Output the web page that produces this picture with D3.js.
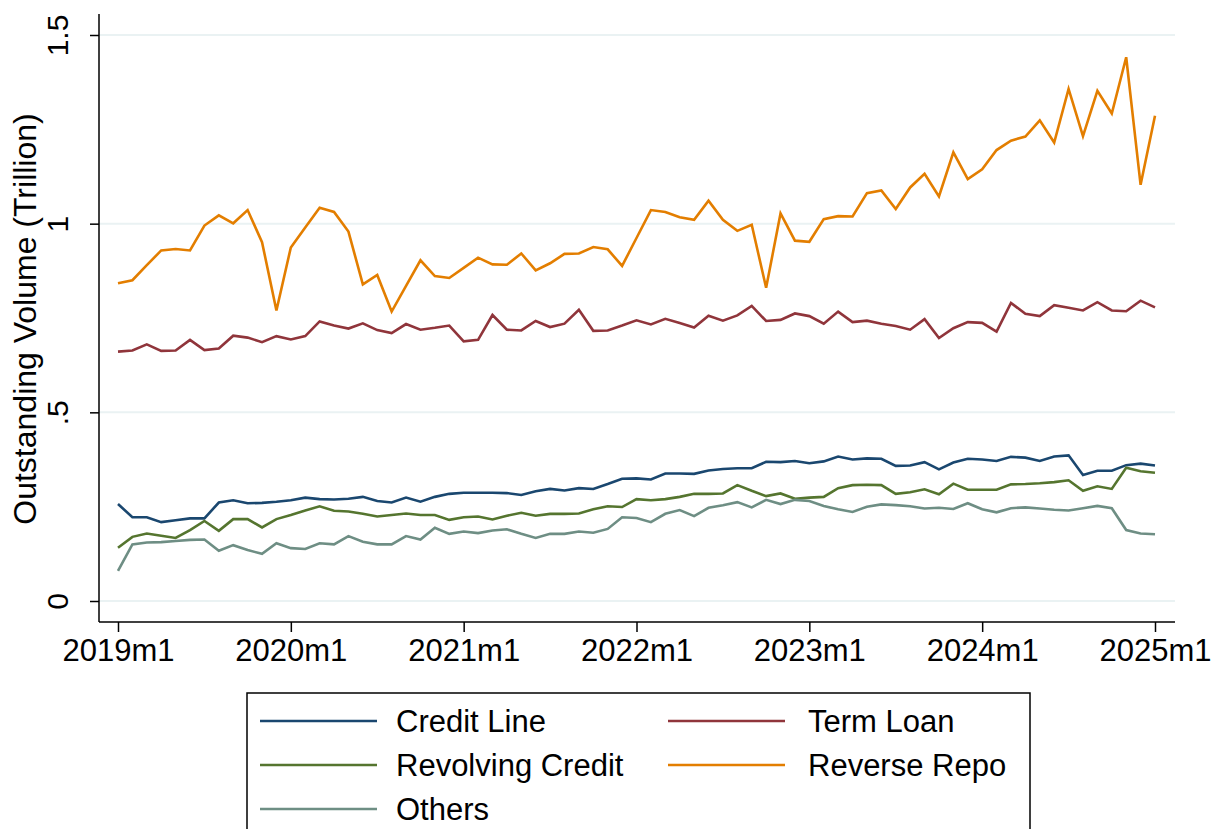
<!DOCTYPE html>
<html>
<head>
<meta charset="utf-8">
<script src="https://cdn.jsdelivr.net/npm/d3@7"></script>
<style>
  body { margin: 0; background: #fff; }
  svg { display: block; font-family: "Liberation Sans", Arial, sans-serif; }
</style>
</head>
<body>
<div id="chart"></div>
<script>
// months 2019m1 .. 2025m1 (73 points)
var nMonths = 73;
var tickLabels = ["2019m1", "2020m1", "2021m1", "2022m1", "2023m1", "2024m1", "2025m1"];
var yTicks = [0, 0.5, 1, 1.5];
var yTickLabels = ["0", ".5", "1", "1.5"];

var creditLine = [0.257, 0.222, 0.222, 0.209, 0.214, 0.219, 0.219, 0.261, 0.267, 0.259, 0.260, 0.263,
  0.267, 0.274, 0.270, 0.269, 0.271, 0.276, 0.265, 0.261, 0.274, 0.263, 0.276, 0.284,
  0.287, 0.287, 0.287, 0.286, 0.281, 0.291, 0.297, 0.293, 0.299, 0.297, 0.310, 0.324,
  0.325, 0.322, 0.338, 0.338, 0.337, 0.346, 0.350, 0.352, 0.352, 0.369, 0.368, 0.371,
  0.365, 0.370, 0.383, 0.375, 0.378, 0.377, 0.358, 0.359, 0.368, 0.349, 0.367, 0.377,
  0.375, 0.371, 0.382, 0.380, 0.371, 0.383, 0.386, 0.334, 0.345, 0.345, 0.360, 0.364, 0.359];

var termLoan = [0.661, 0.664, 0.680, 0.663, 0.664, 0.692, 0.665, 0.669, 0.703, 0.698, 0.686, 0.702,
  0.693, 0.702, 0.741, 0.730, 0.722, 0.736, 0.718, 0.710, 0.734, 0.719, 0.724, 0.730,
  0.688, 0.692, 0.758, 0.719, 0.717, 0.742, 0.726, 0.735, 0.772, 0.716, 0.717, 0.730,
  0.744, 0.733, 0.748, 0.737, 0.725, 0.756, 0.743, 0.757, 0.782, 0.742, 0.745, 0.762,
  0.755, 0.735, 0.767, 0.739, 0.743, 0.735, 0.729, 0.719, 0.747, 0.697, 0.723, 0.739,
  0.737, 0.714, 0.790, 0.761, 0.755, 0.784, 0.777, 0.770, 0.792, 0.770, 0.768, 0.796, 0.778];

var revolvingCredit = [0.141, 0.170, 0.179, 0.173, 0.167, 0.188, 0.212, 0.186, 0.217, 0.217, 0.195, 0.217,
  0.228, 0.240, 0.251, 0.239, 0.237, 0.231, 0.224, 0.228, 0.232, 0.228, 0.228, 0.215,
  0.222, 0.224, 0.216, 0.226, 0.234, 0.226, 0.231, 0.231, 0.232, 0.243, 0.251, 0.249,
  0.270, 0.267, 0.270, 0.276, 0.284, 0.284, 0.285, 0.307, 0.292, 0.278, 0.285, 0.271,
  0.274, 0.276, 0.299, 0.307, 0.308, 0.307, 0.284, 0.288, 0.296, 0.283, 0.311, 0.295,
  0.295, 0.295, 0.309, 0.310, 0.312, 0.315, 0.320, 0.292, 0.304, 0.297, 0.353, 0.344, 0.340];

var reverseRepo = [0.842, 0.850, 0.890, 0.929, 0.933, 0.929, 0.995, 1.022, 1.001, 1.036, 0.951, 0.770,
  0.937, 0.990, 1.042, 1.031, 0.979, 0.839, 0.864, 0.767, 0.835, 0.903, 0.861, 0.856,
  0.883, 0.910, 0.892, 0.891, 0.921, 0.876, 0.895, 0.920, 0.921, 0.938, 0.932, 0.888,
  0.962, 1.036, 1.031, 1.017, 1.010, 1.061, 1.010, 0.981, 0.997, 0.830, 1.027, 0.955,
  0.952, 1.012, 1.020, 1.019, 1.081, 1.088, 1.039, 1.096, 1.132, 1.072, 1.189, 1.118,
  1.144, 1.195, 1.220, 1.231, 1.274, 1.215, 1.357, 1.232, 1.352, 1.292, 1.441, 1.103, 1.286];

var others = [0.080, 0.150, 0.155, 0.156, 0.159, 0.162, 0.163, 0.133, 0.148, 0.135, 0.125, 0.153,
  0.140, 0.138, 0.153, 0.150, 0.172, 0.157, 0.150, 0.150, 0.172, 0.163, 0.194, 0.178,
  0.184, 0.180, 0.187, 0.190, 0.178, 0.167, 0.178, 0.178, 0.184, 0.181, 0.191, 0.222,
  0.220, 0.209, 0.231, 0.241, 0.225, 0.247, 0.254, 0.262, 0.248, 0.268, 0.257, 0.268,
  0.265, 0.252, 0.243, 0.236, 0.250, 0.256, 0.254, 0.251, 0.245, 0.247, 0.244, 0.259,
  0.243, 0.235, 0.246, 0.248, 0.245, 0.242, 0.240, 0.246, 0.252, 0.246, 0.188, 0.179, 0.177];

var seriesNames = ["Credit Line", "Term Loan", "Revolving Credit", "Reverse Repo", "Others"];
var seriesColors = ["#1a476f", "#90353b", "#55752f", "#e37e00", "#6e8e84"];
var seriesData = [creditLine, termLoan, revolvingCredit, reverseRepo, others];

var width = 1213, height = 829;
var svg = d3.select("#chart").append("svg")
    .attr("width", width)
    .attr("height", height);

var x = d3.scaleLinear().domain([0, nMonths - 1]).range([118, 1155]);
var y = d3.scaleLinear().domain([0, 1.5]).range([601, 35]);

var plotLeft = 99, plotRight = 1175, plotTop = 14, plotBottom = 622;

// grid lines
svg.append("g").selectAll("line")
    .data(yTicks)
  .enter().append("line")
    .attr("x1", plotLeft).attr("x2", plotRight)
    .attr("y1", function(d) { return y(d); })
    .attr("y2", function(d) { return y(d); })
    .attr("stroke", "#eaf2f3")
    .attr("stroke-width", 2);

// y axis
var yAxis = d3.axisLeft(y)
    .tickValues(yTicks)
    .tickFormat(function(d, i) { return yTickLabels[i]; })
    .tickSize(9)
    .tickSizeOuter(0);
var gy = svg.append("g")
    .attr("transform", "translate(" + plotLeft + ",0)")
    .call(yAxis);
gy.select(".domain").remove();
gy.append("line")
    .attr("x1", 0).attr("x2", 0)
    .attr("y1", plotTop).attr("y2", plotBottom)
    .attr("stroke", "#000").attr("stroke-width", 1.5);
gy.selectAll(".tick line").attr("stroke", "#000").attr("stroke-width", 1.5);
gy.selectAll(".tick text")
    .attr("font-size", 30)
    .attr("fill", "#000")
    .attr("text-anchor", "middle")
    .attr("dy", 0)
    .attr("transform", "translate(-31,0) rotate(-90)")
    .attr("x", 0)
    .attr("y", 0);

// x axis
var xAxis = d3.axisBottom(x)
    .tickValues(d3.range(0, nMonths, 12))
    .tickFormat(function(d, i) { return tickLabels[i]; })
    .tickSize(10)
    .tickSizeOuter(0);
var gx = svg.append("g")
    .attr("transform", "translate(0," + plotBottom + ")")
    .call(xAxis);
gx.select(".domain").remove();
gx.append("line")
    .attr("x1", plotLeft).attr("x2", plotRight)
    .attr("y1", 0).attr("y2", 0)
    .attr("stroke", "#000").attr("stroke-width", 1.5);
gx.selectAll(".tick line").attr("stroke", "#000").attr("stroke-width", 1.5);
gx.selectAll(".tick text")
    .attr("font-size", 31)
    .attr("fill", "#000")
    .attr("y", 39)
    .attr("dy", 0);

// y title
svg.append("text")
    .attr("transform", "translate(36,319) rotate(-90)")
    .attr("text-anchor", "middle")
    .attr("font-size", 32)
    .text("Outstanding Volume (Trillion)");

// lines
var line = d3.line()
    .x(function(d, i) { return x(i); })
    .y(function(d) { return y(d); });

svg.append("g").selectAll("path")
    .data(seriesData)
  .enter().append("path")
    .attr("d", function(d) { return line(d); })
    .attr("fill", "none")
    .attr("stroke", function(d, i) { return seriesColors[i]; })
    .attr("stroke-width", 2.6);

// legend
var legend = svg.append("g");
legend.append("rect")
    .attr("x", 247).attr("y", 693)
    .attr("width", 783).attr("height", 160)
    .attr("fill", "#fff")
    .attr("stroke", "#000")
    .attr("stroke-width", 1.5);

var legLineX = [260, 668], legTextX = [396, 808], legRowY = [721, 765, 809];
var items = legend.selectAll("g.item")
    .data(seriesNames)
  .enter().append("g")
    .attr("class", "item")
    .attr("transform", function(d, i) {
      return "translate(0," + legRowY[Math.floor(i / 2)] + ")";
    });
items.append("line")
    .attr("x1", function(d, i) { return legLineX[i % 2]; })
    .attr("x2", function(d, i) { return legLineX[i % 2] + 117; })
    .attr("y1", 0).attr("y2", 0)
    .attr("stroke", function(d, i) { return seriesColors[i]; })
    .attr("stroke-width", 2.6);
items.append("text")
    .attr("x", function(d, i) { return legTextX[i % 2]; })
    .attr("y", 11)
    .attr("font-size", 31)
    .text(function(d) { return d; });
</script>
</body>
</html>
